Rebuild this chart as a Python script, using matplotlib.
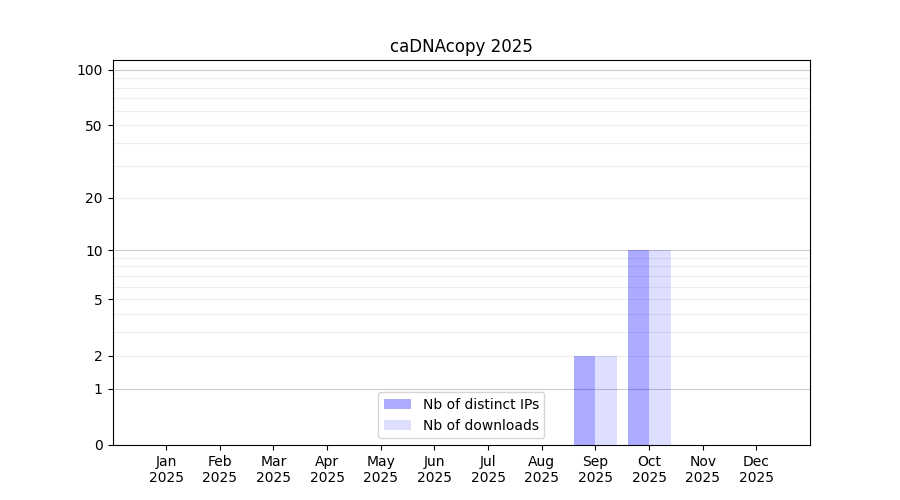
import numpy as np
import matplotlib
matplotlib.use("Agg")
import matplotlib.pyplot as plt

# Monthly stats for caDNAcopy, 2025
months = ["Jan", "Feb", "Mar", "Apr", "May", "Jun",
          "Jul", "Aug", "Sep", "Oct", "Nov", "Dec"]
year = 2025
distinct_ips = [0, 0, 0, 0, 0, 0, 0, 0, 2, 10, 0, 0]
downloads = [0, 0, 0, 0, 0, 0, 0, 0, 2, 10, 0, 0]

y_ticks = [0, 1, 2, 5, 10, 20, 50, 100]
light_grid = [2, 3, 4, 5, 6, 7, 8, 9, 20, 30, 40, 50, 60, 70, 80, 90]
dark_grid = [1, 10, 100]


def forward(y):
    return np.log10(1 + np.asarray(y, dtype=float))


def inverse(y):
    return 10 ** np.asarray(y, dtype=float) - 1


fig, ax = plt.subplots(figsize=(9, 5), dpi=100)
ax.set_yscale("function", functions=(forward, inverse))

x = np.arange(1, len(months) + 1)

# grid lines first, bars on top (bars are see-through)
for v in light_grid:
    ax.axhline(v, color="#eeeeee", linewidth=0.8, zorder=0)
for v in dark_grid:
    ax.axhline(v, color="#cccccc", linewidth=0.8, zorder=0)

ax.bar(x, distinct_ips, width=-0.4, align="edge", color="blue", alpha=0.33,
       label="Nb of distinct IPs", zorder=1)
ax.bar(x, downloads, width=0.4, align="edge", color="blue", alpha=0.13,
       label="Nb of downloads", zorder=1)

ax.set_xlim(0, 13)
ax.set_ylim(0, 113)
ax.set_yticks(y_ticks)
ax.set_yticklabels([str(t) for t in y_ticks])
ax.yaxis.set_minor_locator(matplotlib.ticker.NullLocator())
ax.set_xticks(x)
ax.set_xticklabels([f"{m}\n{year}" for m in months])

ax.set_title(f"caDNAcopy {year}")
ax.legend(loc="lower center")

plt.savefig("out.png")
